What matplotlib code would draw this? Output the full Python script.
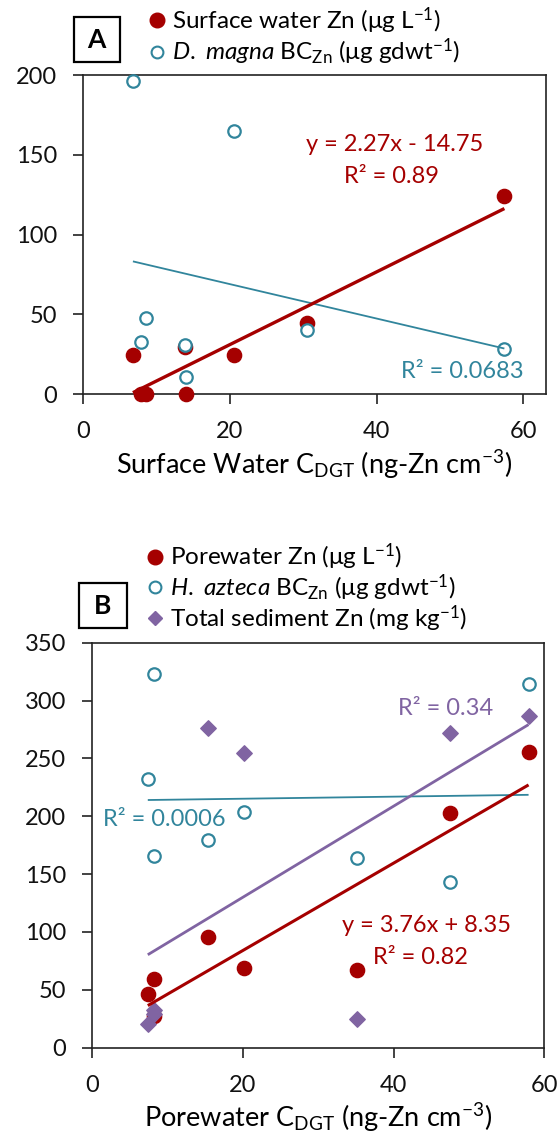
import numpy as np
import matplotlib
matplotlib.use("Agg")
import matplotlib.pyplot as plt
from matplotlib.patches import Rectangle
from matplotlib.lines import Line2D

plt.rcParams['font.family'] = ['Lato', 'DejaVu Sans']
plt.rcParams['mathtext.fontset'] = 'custom'
plt.rcParams['mathtext.rm'] = 'Lato'
plt.rcParams['mathtext.it'] = 'Lato:italic'
plt.rcParams['mathtext.bf'] = 'Lato:bold'

RED = '#A50000'
TEAL = '#31859C'
PURPLE = '#8064A2'

# panel A: surface water
sw_cdgt = [6.8, 7.9, 8.6, 13.9, 14.0, 20.6, 30.5, 57.4]
sw_zn = [24.6, 0.0, 0.0, 29.9, 0.0, 24.6, 44.9, 124.2]
dmagna_bc = [196.5, 32.6, 48.0, 30.9, 11.1, 164.9, 40.3, 28.2]

# panel B: porewater
pw_cdgt = [7.4, 8.2, 8.2, 15.4, 20.2, 35.1, 47.5, 57.9]
pw_zn = [46.4, 59.3, 27.0, 95.9, 69.1, 67.1, 202.5, 255.2]
hazteca_bc = [231.9, 322.6, 165.9, 179.4, 203.9, 164.2, 143.1, 313.9]
sed_zn = [20.4, 32.5, 29.0, 276.5, 254.9, 24.5, 272.2, 286.9]

W, H = 559, 1143
TICK_FS = 17
NOTE_FS = 17
LEG_FS = 17.5
LAB_FS = 19.5

fig = plt.figure(figsize=(W / 100, H / 100), dpi=100)


def px_axes(left, top, right, bottom):
    return fig.add_axes([left / W, 1 - bottom / H, (right - left) / W, (bottom - top) / H])


def trend(ax, x, y, color, lw):
    x = np.asarray(x); y = np.asarray(y)
    k, b = np.polyfit(x, y, 1)
    xs = np.array([x.min(), x.max()])
    ax.plot(xs, k * xs + b, color=color, lw=lw, zorder=4, solid_capstyle='butt')


def style(ax, xmax, ymax, ystep):
    ax.set_xlim(0, xmax)
    ax.set_ylim(0, ymax)
    ax.set_xticks([0, 20, 40, 60])
    ax.set_yticks(np.arange(0, ymax + 1, ystep))
    for s in ax.spines.values():
        s.set_linewidth(1.2)
        s.set_color('#222222')
    ax.tick_params(direction='out', length=7.5, width=1.2, labelsize=TICK_FS,
                   color='#222222', labelcolor='#111111')
    ax.tick_params(axis='x', pad=12)
    ax.tick_params(axis='y', pad=11)


def panel_tag(letter, left, top, right, bottom):
    fig.add_artist(Rectangle((left / W, 1 - bottom / H), (right - left) / W, (bottom - top) / H,
                             transform=fig.transFigure, fill=False, ec='black', lw=1.6))
    fig.text((left + right) / 2 / W, 1 - (top + bottom) / 2 / H, letter,
             ha='center', va='center', fontsize=19, fontweight='bold')


# ---------- panel A ----------
axA = px_axes(83, 75, 545.5, 394.3)
axA.scatter(sw_cdgt, sw_zn, s=105, color=RED, zorder=3, clip_on=False)
axA.scatter(sw_cdgt, dmagna_bc, s=80, facecolor='white', edgecolor=TEAL, lw=1.6, zorder=3, clip_on=False)
trend(axA, sw_cdgt, dmagna_bc, TEAL, 1.3)
trend(axA, sw_cdgt, sw_zn, RED, 2.4)
style(axA, 63, 200, 50)
axA.text(42.4, 156.5, 'y = 2.27x - 14.75', color=RED, fontsize=NOTE_FS, ha='center', va='center')
axA.text(42.0, 136.5, 'R² = 0.89', color=RED, fontsize=NOTE_FS, ha='center', va='center')
axA.text(51.7, 14.0, 'R² = 0.0683', color=TEAL, fontsize=NOTE_FS, ha='center', va='center')
axA.set_xlabel(r'Surface Water C$_{\mathregular{DGT}}$ (ng-Zn cm$^{\mathregular{-3}}$)', fontsize=LAB_FS, labelpad=4)
hA = [Line2D([], [], ls='', marker='o', ms=10.5, color=RED),
      Line2D([], [], ls='', marker='o', ms=8.5, mfc='white', mec=TEAL, mew=1.5)]
lA = [r'Surface water Zn (μg L$^{\mathregular{-1}}$)',
      r'$\mathit{D.\ magna}$ BC$_{\mathregular{Zn}}$ (μg gdwt$^{\mathregular{-1}}$)']
fig.legend(hA, lA, loc='upper left', bbox_to_anchor=(150 / W, 1 - 5 / H), frameon=False,
           fontsize=LEG_FS, handlelength=0.6, handletextpad=0.3, labelspacing=0.05,
           borderpad=0, borderaxespad=0)
panel_tag('A', 74, 17, 119.5, 62)

# ---------- panel B ----------
axB = px_axes(92, 642.7, 544.4, 1047.7)
axB.scatter(pw_cdgt, pw_zn, s=105, color=RED, zorder=3, clip_on=False)
axB.scatter(pw_cdgt, hazteca_bc, s=80, facecolor='white', edgecolor=TEAL, lw=1.6, zorder=3, clip_on=False)
axB.scatter(pw_cdgt, sed_zn, s=62, marker='D', color=PURPLE, zorder=3, clip_on=False)
trend(axB, pw_cdgt, hazteca_bc, TEAL, 1.3)
trend(axB, pw_cdgt, sed_zn, PURPLE, 2.0)
trend(axB, pw_cdgt, pw_zn, RED, 2.2)
style(axB, 60, 350, 50)
axB.text(46.9, 293.3, 'R² = 0.34', color=PURPLE, fontsize=NOTE_FS, ha='center', va='center')
axB.text(9.6, 197.4, 'R² = 0.0006', color=TEAL, fontsize=NOTE_FS, ha='center', va='center')
axB.text(44.3, 105.2, 'y = 3.76x + 8.35', color=RED, fontsize=NOTE_FS, ha='center', va='center')
axB.text(43.6, 77.8, 'R² = 0.82', color=RED, fontsize=NOTE_FS, ha='center', va='center')
axB.set_xlabel(r'Porewater C$_{\mathregular{DGT}}$ (ng-Zn cm$^{\mathregular{-3}}$)', fontsize=LAB_FS, labelpad=4)
hB = [Line2D([], [], ls='', marker='o', ms=10.5, color=RED),
      Line2D([], [], ls='', marker='o', ms=8.5, mfc='white', mec=TEAL, mew=1.5),
      Line2D([], [], ls='', marker='D', ms=7, color=PURPLE)]
lB = [r'Porewater Zn (μg L$^{\mathregular{-1}}$)',
      r'$\mathit{H.\ azteca}$ BC$_{\mathregular{Zn}}$ (μg gdwt$^{\mathregular{-1}}$)',
      r'Total sediment Zn (mg kg$^{\mathregular{-1}}$)']
fig.legend(hB, lB, loc='upper left', bbox_to_anchor=(148 / W, 1 - 542 / H), frameon=False,
           fontsize=LEG_FS, handlelength=0.6, handletextpad=0.3, labelspacing=0.0,
           borderpad=0, borderaxespad=0)
panel_tag('B', 79, 583.3, 126.6, 627.7)

fig.savefig('out.png', dpi=100)
